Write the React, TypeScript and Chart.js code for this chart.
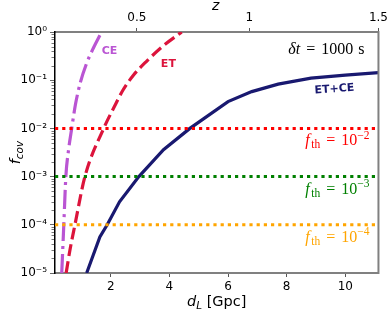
import React, { useEffect, useRef } from "react";
import { Chart, registerables } from "chart.js";
Chart.register(...registerables);

// ---- data ----
const ceDL = [0.33, 0.4, 0.47, 0.56, 0.67, 0.8, 0.97, 1.17, 1.41, 1.69];
const ceF = [1e-5, 1e-4, 1e-3, 3.5e-3, 1e-2, 0.032, 0.092, 0.217, 0.466, 1];
const etDL = [0.48, 0.61, 0.78, 1.12, 1.76, 2.1, 2.42, 2.78, 3.23, 3.78, 4.42];
const etF = [1e-5, 3e-5, 1e-4, 1e-3, 1e-2, 0.0265, 0.0626, 0.128, 0.25, 0.51, 1];
const bothDL = [1.18, 1.63, 1.88, 2.3, 2.96, 3.8, 4.7, 6.0, 6.81, 7.71, 8.83, 10.0, 11.13];
const bothF = [1e-5, 5.6e-5, 1e-4, 3e-4, 1e-3, 3.6e-3, 1e-2, 0.036, 0.058, 0.083, 0.11, 0.128, 0.143];
const thresholds = [1e-2, 1e-3, 1e-4];
const thresholdExp = ["−2", "−3", "−4"];
const thresholdColors = ["#ff0000", "#008000", "#ffa500"];
const xTicks = [2, 4, 6, 8, 10];
const zTicks = [0.5, 1, 1.5];
const zTickDL = [2.89, 6.73, 11.13];
const xMin = 0.1;
const xMax = 11.13;
const yMin = 1e-5;
const yMax = 1;

const SUP: Record<string, string> = {
  "0": "⁰", "1": "¹", "2": "²", "3": "³", "4": "⁴", "5": "⁵", "6": "⁶", "7": "⁷", "8": "⁸", "9": "⁹", "-": "⁻",
};
const sup = (s: string) => s.split("").map((c) => SUP[c] ?? c).join("");

const pts = (xs: number[], ys: number[]) => xs.map((x, i) => ({ x, y: ys[i] }));

const SERIF = "'Liberation Serif', 'DejaVu Serif', serif";
const SANS = "'DejaVu Sans', sans-serif";

type Part = { t: string; f: string; dy?: number; gap?: number };

function drawParts(ctx: CanvasRenderingContext2D, parts: Part[], right: number, baseline: number) {
  let w = 0;
  for (const p of parts) { ctx.font = p.f; w += ctx.measureText(p.t).width + (p.gap ?? 0); }
  let x = right - w;
  for (const p of parts) {
    ctx.font = p.f;
    ctx.fillText(p.t, x, baseline + (p.dy ?? 0));
    x += ctx.measureText(p.t).width + (p.gap ?? 0);
  }
}

const decor = {
  id: "decor",
  afterDraw(chart: any) {
    const { ctx, chartArea, scales } = chart;
    const ys = scales.y;
    const xs = scales.x;
    ctx.save();
    // right spine
    ctx.strokeStyle = "#808080";
    ctx.lineWidth = 2;
    ctx.beginPath();
    ctx.moveTo(chartArea.right, chartArea.top - 1);
    ctx.lineTo(chartArea.right, chartArea.bottom + 1);
    ctx.stroke();
    // minor ticks on log axis
    ctx.strokeStyle = "#555";
    ctx.lineWidth = 0.8;
    for (let e = -5; e < 0; e++) {
      for (let m = 2; m <= 9; m++) {
        const v = m * Math.pow(10, e);
        const py = Math.round(ys.getPixelForValue(v)) + 0.5;
        ctx.beginPath();
        ctx.moveTo(chartArea.left - 1, py);
        ctx.lineTo(chartArea.left - 3.5, py);
        ctx.stroke();
      }
    }
    ctx.restore();

    // annotations
    ctx.save();
    ctx.textBaseline = "middle";
    ctx.textAlign = "left";
    ctx.font = `bold 11px ${SANS}`;
    ctx.fillStyle = "#ba55d3";
    ctx.fillText("CE", xs.getPixelForValue(1.69), ys.getPixelForValue(0.4));
    ctx.fillStyle = "#dc143c";
    ctx.fillText("ET", xs.getPixelForValue(3.71), ys.getPixelForValue(0.216));
    ctx.save();
    ctx.translate(xs.getPixelForValue(9.63), ys.getPixelForValue(0.065));
    ctx.rotate(-0.07);
    ctx.fillStyle = "#191970";
    ctx.textAlign = "center";
    ctx.fillText("ET+CE", 0, 0);
    ctx.restore();

    // delta t
    ctx.fillStyle = "#000";
    ctx.textBaseline = "alphabetic";
    ctx.textAlign = "left";
    drawParts(ctx, [
      { t: "δt", f: `italic 16px ${SERIF}`, gap: 6 },
      { t: "=", f: `16px ${SERIF}`, gap: 6 },
      { t: "1000", f: `16px ${SERIF}`, gap: 5 },
      { t: "s", f: `16px ${SERIF}` },
    ], chartArea.right - 14, 53.5);

    thresholds.forEach((t, i) => {
      ctx.fillStyle = thresholdColors[i];
      drawParts(ctx, [
        { t: "f", f: `italic 16px ${SERIF}`, gap: 1.5 },
        { t: "th", f: `11.5px ${SERIF}`, dy: 3, gap: 6 },
        { t: "=", f: `16px ${SERIF}`, gap: 6 },
        { t: "10", f: `16px ${SERIF}` },
        { t: thresholdExp[i], f: `11.5px ${SERIF}`, dy: -6.5 },
      ], chartArea.right - 9, ys.getPixelForValue(t) + 17);
    });

    // axis titles
    ctx.fillStyle = "#000";
    {
      const parts: Part[] = [
        { t: "d", f: `italic 14.5px ${SANS}` },
        { t: "L", f: `italic 10.5px ${SANS}`, dy: 3 },
        { t: " [Gpc]", f: `14.5px ${SANS}` },
      ];
      let w = 0;
      for (const p of parts) { ctx.font = p.f; w += ctx.measureText(p.t).width; }
      drawParts(ctx, parts, (chartArea.left + chartArea.right) / 2 + w / 2, 306);
    }
    ctx.font = `italic 14px ${SANS}`;
    ctx.textAlign = "center";
    ctx.fillText("z", (chartArea.left + chartArea.right) / 2 - 1, 10);
    ctx.save();
    ctx.translate(20, (chartArea.top + chartArea.bottom) / 2);
    ctx.rotate(-Math.PI / 2);
    ctx.textAlign = "left";
    {
      const parts: Part[] = [
        { t: "f", f: `italic 14.5px ${SANS}` },
        { t: "cov", f: `italic 10.5px ${SANS}`, dy: 3 },
      ];
      let w = 0;
      for (const p of parts) { ctx.font = p.f; w += ctx.measureText(p.t).width; }
      drawParts(ctx, parts, w / 2, 0);
    }
    ctx.restore();
    ctx.restore();
  },
};

export default function App() {
  const ref = useRef<HTMLCanvasElement | null>(null);
  useEffect(() => {
    if (!ref.current) return;
    const common = { pointRadius: 0, pointHoverRadius: 0, fill: false };
    const chart = new Chart(ref.current, {
      type: "line",
      data: {
        datasets: [
          ...thresholds.map((t, i) => ({
            ...common,
            data: [{ x: xMin, y: t }, { x: xMax, y: t }],
            borderColor: thresholdColors[i],
            borderWidth: 3,
            borderDash: [3.2, 4],
            borderCapStyle: "butt" as const,
            order: 0,
          })),
          {
            ...common,
            data: pts(ceDL, ceF),
            borderColor: "#ba55d3",
            borderWidth: 3.2,
            borderDash: [19, 5, 3, 5],
            cubicInterpolationMode: "monotone" as const,
            order: 1,
          },
          {
            ...common,
            data: pts(etDL, etF),
            borderColor: "#dc143c",
            borderWidth: 3.2,
            borderDash: [12, 5],
            cubicInterpolationMode: "monotone" as const,
            order: 1,
          },
          {
            ...common,
            data: pts(bothDL, bothF),
            borderColor: "#191970",
            borderWidth: 3.2,
            tension: 0,
            order: 1,
          },
        ],
      },
      options: {
        animation: false,
        responsive: false,
        events: [],
        layout: { padding: { left: 0, right: 10, top: 0, bottom: 0 } },
        plugins: { legend: { display: false }, tooltip: { enabled: false } },
        scales: {
          x: {
            type: "linear",
            position: "bottom",
            min: xMin,
            max: xMax,
            afterBuildTicks: (axis: any) => { axis.ticks = xTicks.map((v) => ({ value: v })); },
            afterFit: (axis: any) => { axis.height = 39; },
            ticks: { color: "#000", font: { size: 12, family: SANS }, padding: 3, maxRotation: 0, autoSkip: false },
            grid: { drawOnChartArea: false, drawTicks: true, tickLength: 4, tickColor: "#555", tickWidth: 1 },
            border: { color: "#808080", width: 2 },
          },
          x2: {
            type: "linear",
            position: "top",
            min: xMin,
            max: xMax,
            afterBuildTicks: (axis: any) => { axis.ticks = zTickDL.map((v) => ({ value: v })); },
            afterFit: (axis: any) => { axis.height = 32; },
            ticks: {
              color: "#000",
              font: { size: 12, family: SANS },
              padding: 3,
              maxRotation: 0,
              autoSkip: false,
              callback: (_v: any, i: number) => String(zTicks[i]),
            },
            grid: { drawOnChartArea: false, drawTicks: true, tickLength: 4, tickColor: "#555", tickWidth: 1 },
            border: { color: "#808080", width: 2 },
          },
          y: {
            type: "logarithmic",
            min: yMin,
            max: yMax,
            afterBuildTicks: (axis: any) => {
              const t = [];
              for (let e = -5; e <= 0; e++) t.push({ value: Math.pow(10, e) });
              axis.ticks = t;
            },
            afterFit: (axis: any) => { axis.width = 55; },
            ticks: {
              color: "#000",
              font: { size: 12, family: SANS },
              padding: 3,
              autoSkip: false,
              callback: (v: any) => "10" + sup(String(Math.round(Math.log10(Number(v))))),
            },
            grid: { drawOnChartArea: false, drawTicks: true, tickLength: 5, tickColor: "#666", tickWidth: 1 },
            border: { color: "#000", width: 1.5 },
          },
        },
      },
      plugins: [decor],
    } as any);
    return () => chart.destroy();
  }, []);
  return (
    <div style={{ position: "absolute", left: 0, top: 0, width: 391, height: 312, background: "#fff" }}>
      <canvas ref={ref} width={391} height={312} style={{ display: "block" }} />
    </div>
  );
}
